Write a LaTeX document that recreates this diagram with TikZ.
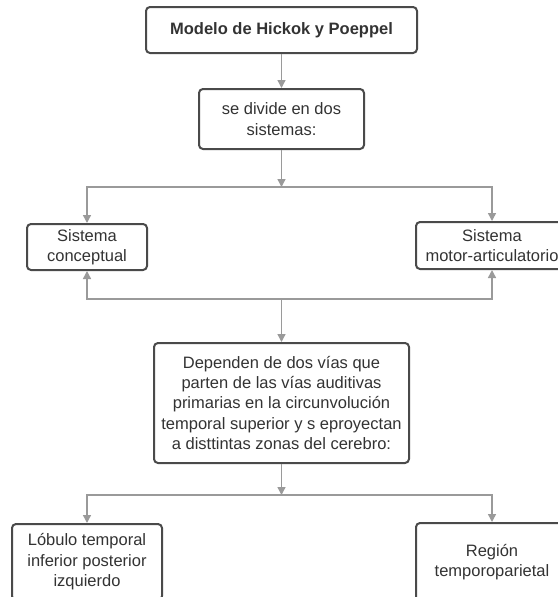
\documentclass[tikz,border=0pt]{standalone}
\usepackage{fontspec}
\setmainfont{Liberation Sans}
\usetikzlibrary{arrows.meta, positioning}
\usepackage{xcolor}
\definecolor{boxline}{HTML}{4A4A4A}
\definecolor{arrowgray}{HTML}{9A9A9A}
\definecolor{textgray}{HTML}{333333}

\begin{document}
\begin{tikzpicture}[x=1pt, y=-1pt, ->, >={Triangle[length=8pt,width=8pt]}, draw=arrowgray, line width=1.4pt]
    \tikzstyle{box}=[draw=boxline, line width=2pt, rounded corners=4pt, fill=white, text=textgray, align=center, inner sep=0pt, font=\fontsize{16.5}{20.4}\selectfont]
    \tikzstyle{wide box}=[box, minimum width=152pt]

    \useasboundingbox[fill=white] (0,0) rectangle (557,597);

	\node[box, minimum width=271pt, minimum height=46pt, font=\fontsize{16.5}{20.4}\selectfont\bfseries] (modelo) at (281.5,30) {Modelo de Hickok y Poeppel};
	\node[box, minimum width=165pt, minimum height=60pt] (sistemas) at (281.5,119) {se divide en dos\\sistemas:};
	\node[box, minimum width=120pt, minimum height=46pt] (concep) at (87,247) {Sistema\\conceptual};
	\node[wide box, minimum height=47pt] (motor) at (492,245.5) {Sistema\\motor-articulatorio};
	\node[box, minimum width=255pt, minimum height=120pt] (vias) at (281.5,403) {Dependen de dos vías que\\parten de las vías auditivas\\primarias en la circunvolución\\temporal superior y s eproyectan\\a disttintas zonas del cerebro:};
	\node[box, minimum width=150pt, minimum height=76pt] (lobulo) at (87,562) {Lóbulo temporal\\inferior posterior\\izquierdo};
	\node[wide box, minimum height=78pt] (region) at (492,562) {Región\\temporoparietal};

	\coordinate (div) at (281.5,187);
	\coordinate (une) at (281.5,299);
	\coordinate (zonas) at (281.5,495);

	\path (modelo) edge (sistemas);
	\path (sistemas) edge (div);
	\foreach \n in {concep,motor}{
		\draw (div) -| (\n);
		\draw (une) -| (\n);
	}
	\path (une) edge (vias);
	\path (vias) edge (zonas);
	\foreach \n in {lobulo,region}
		\draw (zonas) -| (\n);
\end{tikzpicture}
\end{document}
